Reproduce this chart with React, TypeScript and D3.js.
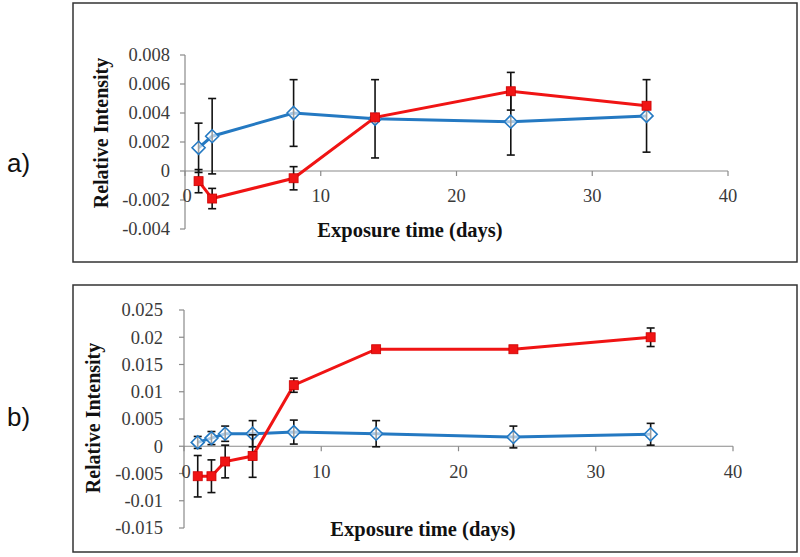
import React from "react";
import * as d3 from "d3";

// ---------- data ----------
const daysA = [1, 2, 8, 14, 24, 34];
const blueA = [0.0016, 0.0024, 0.004, 0.0036, 0.0034, 0.0038];
const blueAErr = [0.0017, 0.0026, 0.0023, 0.0027, 0.0023, 0.0025];
const redA = [-0.0007, -0.0019, -0.0005, 0.0037, 0.0055, 0.0045];
const redAErr = [0.0008, 0.0007, 0.0008, 0.0002, 0.0013, 0.0002];
const yTicksA = [-0.004, -0.002, 0, 0.002, 0.004, 0.006, 0.008];
const yLabelsA = ["-0.004", "-0.002", "0", "0.002", "0.004", "0.006", "0.008"];

const daysB = [1, 2, 3, 5, 8, 14, 24, 34];
const blueB = [0.0007, 0.0015, 0.0023, 0.0023, 0.0026, 0.0023, 0.0017, 0.0022];
const blueBErr = [0.0011, 0.0012, 0.0014, 0.0024, 0.0022, 0.0024, 0.002, 0.002];
const redB = [-0.0055, -0.0055, -0.0028, -0.0018, 0.0112, 0.0178, 0.0178, 0.02];
const redBErr = [0.0038, 0.003, 0.003, 0.0039, 0.0013, 0.0003, 0.0003, 0.0017];
const yTicksB = [-0.015, -0.01, -0.005, 0, 0.005, 0.01, 0.015, 0.02, 0.025];
const yLabelsB = ["-0.015", "-0.01", "-0.005", "0", "0.005", "0.01", "0.015", "0.02", "0.025"];

const xTicks = [0, 10, 20, 30, 40];
const xLabels = ["0", "10", "20", "30", "40"];

const BLUE = "#2479c2";
const RED = "#f01414";
const AXIS = "#8a8a8a";
const TXT = "#3a3a3a";
const SERIF = "'Liberation Serif', 'Times New Roman', serif";

type PanelProps = {
  label: string;
  box: [number, number, number, number];
  xRange: [number, number];
  yDomain: [number, number];
  yRange: [number, number];
  yTicks: number[];
  yLabels: string[];
  yLabelGap: number;
  days: number[];
  blue: number[];
  blueErr: number[];
  red: number[];
  redErr: number[];
  xTitle: [number, number];
  yTitle: [number, number];
  labelPos: [number, number];
};

function Panel(p: PanelProps) {
  const x = d3.scaleLinear().domain([0, 40]).range(p.xRange);
  const y = d3.scaleLinear().domain(p.yDomain).range(p.yRange);
  const line = d3
    .line<number>()
    .x((_, i) => x(p.days[i]))
    .y((v) => y(v));
  const y0 = y(0);
  const [bx, by, bw, bh] = p.box;

  const errBars = (vals: number[], errs: number[], key: string) =>
    vals.map((v, i) => {
      const cx = x(p.days[i]);
      const t = y(v + errs[i]);
      const b = y(v - errs[i]);
      return (
        <g key={key + i} stroke="#111" strokeWidth={1.6}>
          <line x1={cx} x2={cx} y1={t} y2={b} />
          <line x1={cx - 4} x2={cx + 4} y1={t} y2={t} />
          <line x1={cx - 4} x2={cx + 4} y1={b} y2={b} />
        </g>
      );
    });

  return (
    <g>
      <rect x={bx} y={by} width={bw} height={bh} fill="#fff" stroke="#333" strokeWidth={1.5} />
      <text
        x={p.labelPos[0]}
        y={p.labelPos[1]}
        fontFamily="'Liberation Sans', 'Noto Sans', sans-serif"
        fontSize={26}
        fill="#111"
      >
        {p.label}
      </text>
      {/* y axis */}
      <line x1={p.xRange[0]} x2={p.xRange[0]} y1={p.yRange[0]} y2={p.yRange[1]} stroke={AXIS} strokeWidth={1.2} />
      {p.yTicks.map((t, i) => (
        <g key={"yt" + i}>
          <line x1={p.xRange[0] - 5} x2={p.xRange[0]} y1={y(t)} y2={y(t)} stroke={AXIS} strokeWidth={1.2} />
          <text
            x={p.xRange[0] - p.yLabelGap}
            y={y(t)}
            dy="0.35em"
            textAnchor="end"
            fontFamily={SERIF}
            fontSize={18.5}
            fill={TXT}
          >
            {p.yLabels[i]}
          </text>
        </g>
      ))}
      {/* x axis at zero */}
      <line x1={p.xRange[0]} x2={p.xRange[1]} y1={y0} y2={y0} stroke={AXIS} strokeWidth={1.2} />
      {xTicks.map((t, i) => (
        <g key={"xt" + i}>
          <line x1={x(t)} x2={x(t)} y1={y0} y2={y0 + 5} stroke={AXIS} strokeWidth={1.2} />
          <text
            x={x(t) + (t === 0 ? 2 : 0)}
            y={y0 + 25}
            dy="0.35em"
            textAnchor="middle"
            fontFamily={SERIF}
            fontSize={18.5}
            fill={TXT}
          >
            {xLabels[i]}
          </text>
        </g>
      ))}
      <text
        x={p.xTitle[0]}
        y={p.xTitle[1]}
        textAnchor="middle"
        fontFamily={SERIF}
        fontWeight="bold"
        fontSize={20.5}
        fill="#111"
      >
        Exposure time (days)
      </text>
      <text
        transform={`translate(${p.yTitle[0]},${p.yTitle[1]}) rotate(-90)`}
        textAnchor="middle"
        fontFamily={SERIF}
        fontWeight="bold"
        fontSize={20}
        fill="#111"
      >
        Relative Intensity
      </text>
      {/* blue series */}
      <path d={line(p.blue) || ""} fill="none" stroke={BLUE} strokeWidth={3} />
      {errBars(p.blue, p.blueErr, "be")}
      {p.blue.map((v, i) => {
        const cx = x(p.days[i]);
        const cy = y(v);
        const s = 6.5;
        return (
          <path
            key={"bm" + i}
            d={`M${cx},${cy - s}L${cx + s},${cy}L${cx},${cy + s}L${cx - s},${cy}Z`}
            fill="rgba(255,255,255,0.6)"
            stroke={BLUE}
            strokeWidth={1.6}
          />
        );
      })}
      {/* red series */}
      <path d={line(p.red) || ""} fill="none" stroke={RED} strokeWidth={3} />
      {errBars(p.red, p.redErr, "re")}
      {p.red.map((v, i) => (
        <rect
          key={"rm" + i}
          x={x(p.days[i]) - 4.5}
          y={y(v) - 4.5}
          width={9}
          height={9}
          fill={RED}
          stroke="#c00"
          strokeWidth={0.8}
        />
      ))}
    </g>
  );
}

export default function App() {
  return (
    <svg
      width={800}
      height={557}
      style={{ position: "absolute", left: 0, top: 0, background: "#fff" }}
    >
      <rect x={0} y={0} width={800} height={557} fill="#fff" />
      <Panel
        label="a)"
        box={[73, 3, 724, 259]}
        xRange={[185, 728]}
        yDomain={[-0.004, 0.008]}
        yRange={[229, 55]}
        yTicks={yTicksA}
        yLabels={yLabelsA}
        yLabelGap={15}
        days={daysA}
        blue={blueA}
        blueErr={blueAErr}
        red={redA}
        redErr={redAErr}
        xTitle={[410, 237]}
        yTitle={[108, 133]}
        labelPos={[7, 172]}
      />
      <Panel
        label="b)"
        box={[73, 285, 724, 267]}
        xRange={[184, 733]}
        yDomain={[-0.015, 0.025]}
        yRange={[528, 310]}
        yTicks={yTicksB}
        yLabels={yLabelsB}
        yLabelGap={21}
        days={daysB}
        blue={blueB}
        blueErr={blueBErr}
        red={redB}
        redErr={redBErr}
        xTitle={[423, 536]}
        yTitle={[100, 418]}
        labelPos={[7, 426]}
      />
    </svg>
  );
}
